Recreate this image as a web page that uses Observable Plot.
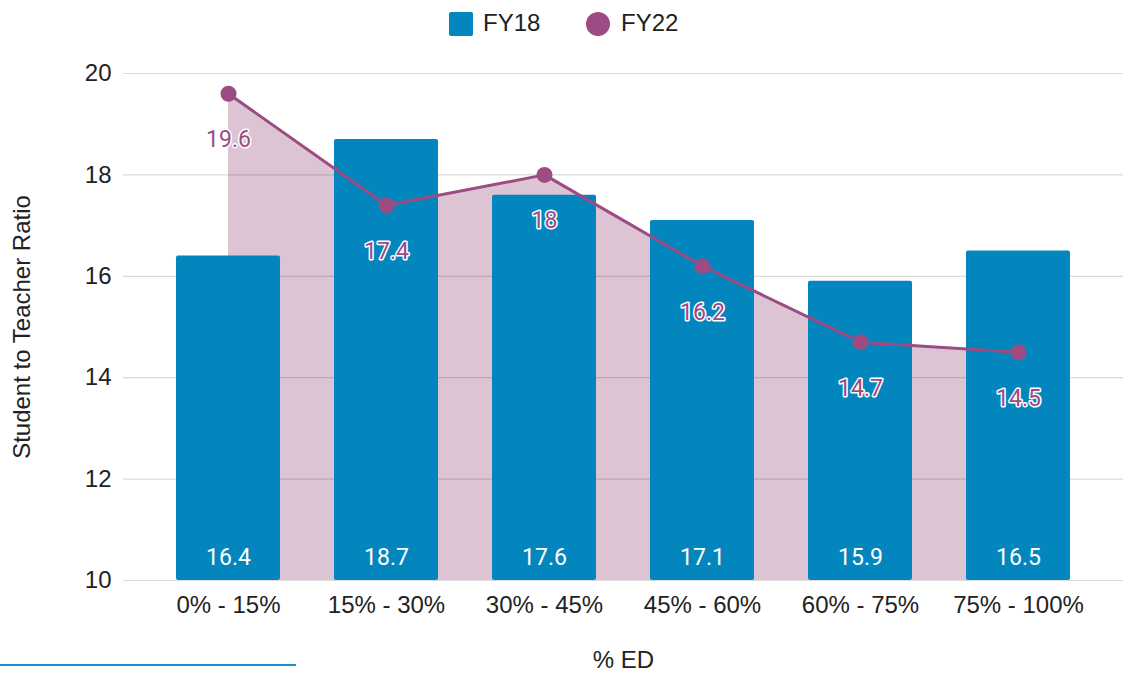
<!DOCTYPE html>
<html><head><meta charset="utf-8">
<script src="https://cdn.jsdelivr.net/npm/d3@7"></script>
<script src="https://cdn.jsdelivr.net/npm/@observablehq/plot@0.6"></script>
<style>
body{margin:0;background:#fff;font-family:"Liberation Sans",Arial,sans-serif;}
#wrap{position:relative;width:1123px;height:673px;}
#legend{height:38px;position:relative;font-size:24px;color:#222;}
.sw{position:absolute;width:24px;height:24px;}
.lt{position:absolute;top:10px;line-height:26px;}
#rule{position:absolute;left:0;top:664px;width:296px;height:2px;background:#1a8ed6;}
</style></head>
<body><div id="wrap">
<div id="legend">
<span class="sw" style="left:449px;top:12px;background:#0386be;border-radius:2px"></span><span class="lt" style="left:483px">FY18</span>
<span class="sw" style="left:586px;top:12px;background:#9c4b83;border-radius:50%"></span><span class="lt" style="left:621px">FY22</span>
</div>
<div id="chart"></div>
<div id="rule"></div>
</div>
<script>
const categories = ["0% - 15%","15% - 30%","30% - 45%","45% - 60%","60% - 75%","75% - 100%"];
const fy18 = [16.4, 18.7, 17.6, 17.1, 15.9, 16.5];
const fy22 = [19.6, 17.4, 18.0, 16.2, 14.7, 14.5];
const fy22Labels = ["19.6","17.4","18","16.2","14.7","14.5"];
const yTicks = [10, 12, 14, 16, 18, 20];

const rows = categories.map((c, i) => ({cat: c, fy18: fy18[i], fy22: fy22[i], lab: fy22Labels[i]}));
const blue = "#0386be", purple = "#9c4b83", pink = "#dcc4d4";

const chart = Plot.plot({
  width: 1123, height: 635,
  marginLeft: 123, marginRight: 0, marginTop: 35, marginBottom: 93,
  style: {fontFamily: '"Liberation Sans", Arial, sans-serif', fontSize: "22px", color: "#222", background: "#fff"},
  x: {domain: categories, paddingInner: 0.34, paddingOuter: 0.33, label: null},
  y: {domain: [10, 20], label: null},
  marks: [
    Plot.areaY(rows, {x: "cat", y1: 10, y2: "fy22", fill: pink, curve: "linear"}),
    Plot.gridY(yTicks, {stroke: "#000", strokeOpacity: 0.14, strokeWidth: 1.2}),
    Plot.barY(rows, {x: "cat", y1: 10, y2: "fy18", fill: blue, rx: 2}),
    Plot.text(rows, {x: "cat", y: 10, text: d => String(d.fy18), dy: -23, fill: "#fff", fontSize: 23, fontFamily: "Roboto, sans-serif"}),
    Plot.line(rows, {x: "cat", y: "fy22", stroke: purple, strokeWidth: 3}),
    Plot.dot(rows, {x: "cat", y: "fy22", fill: purple, r: 8}),
    Plot.text(rows, {x: "cat", y: "fy22", text: "lab", dy: 46, fill: purple, stroke: "#fff", strokeWidth: 3, paintOrder: "stroke", fontSize: 23, fontFamily: "Roboto, sans-serif"}),
    Plot.axisY({ticks: yTicks, tickSize: 0, tickPadding: 12, fontSize: 24, label: null, fill: "#222"}),
    Plot.axisX({tickSize: 0, tickPadding: 15, fontSize: 24, label: null, fill: "#222"}),
    Plot.text(["% ED"], {frameAnchor: "bottom", lineAnchor: "middle", dy: 80, fontSize: 24, fill: "#222"}),
    Plot.text(["Student to Teacher Ratio"], {frameAnchor: "left", textAnchor: "middle", dx: -101, rotate: -90, fontSize: 24, fill: "#222"})
  ]
});
document.getElementById("chart").appendChild(chart);
</script>
</body></html>
